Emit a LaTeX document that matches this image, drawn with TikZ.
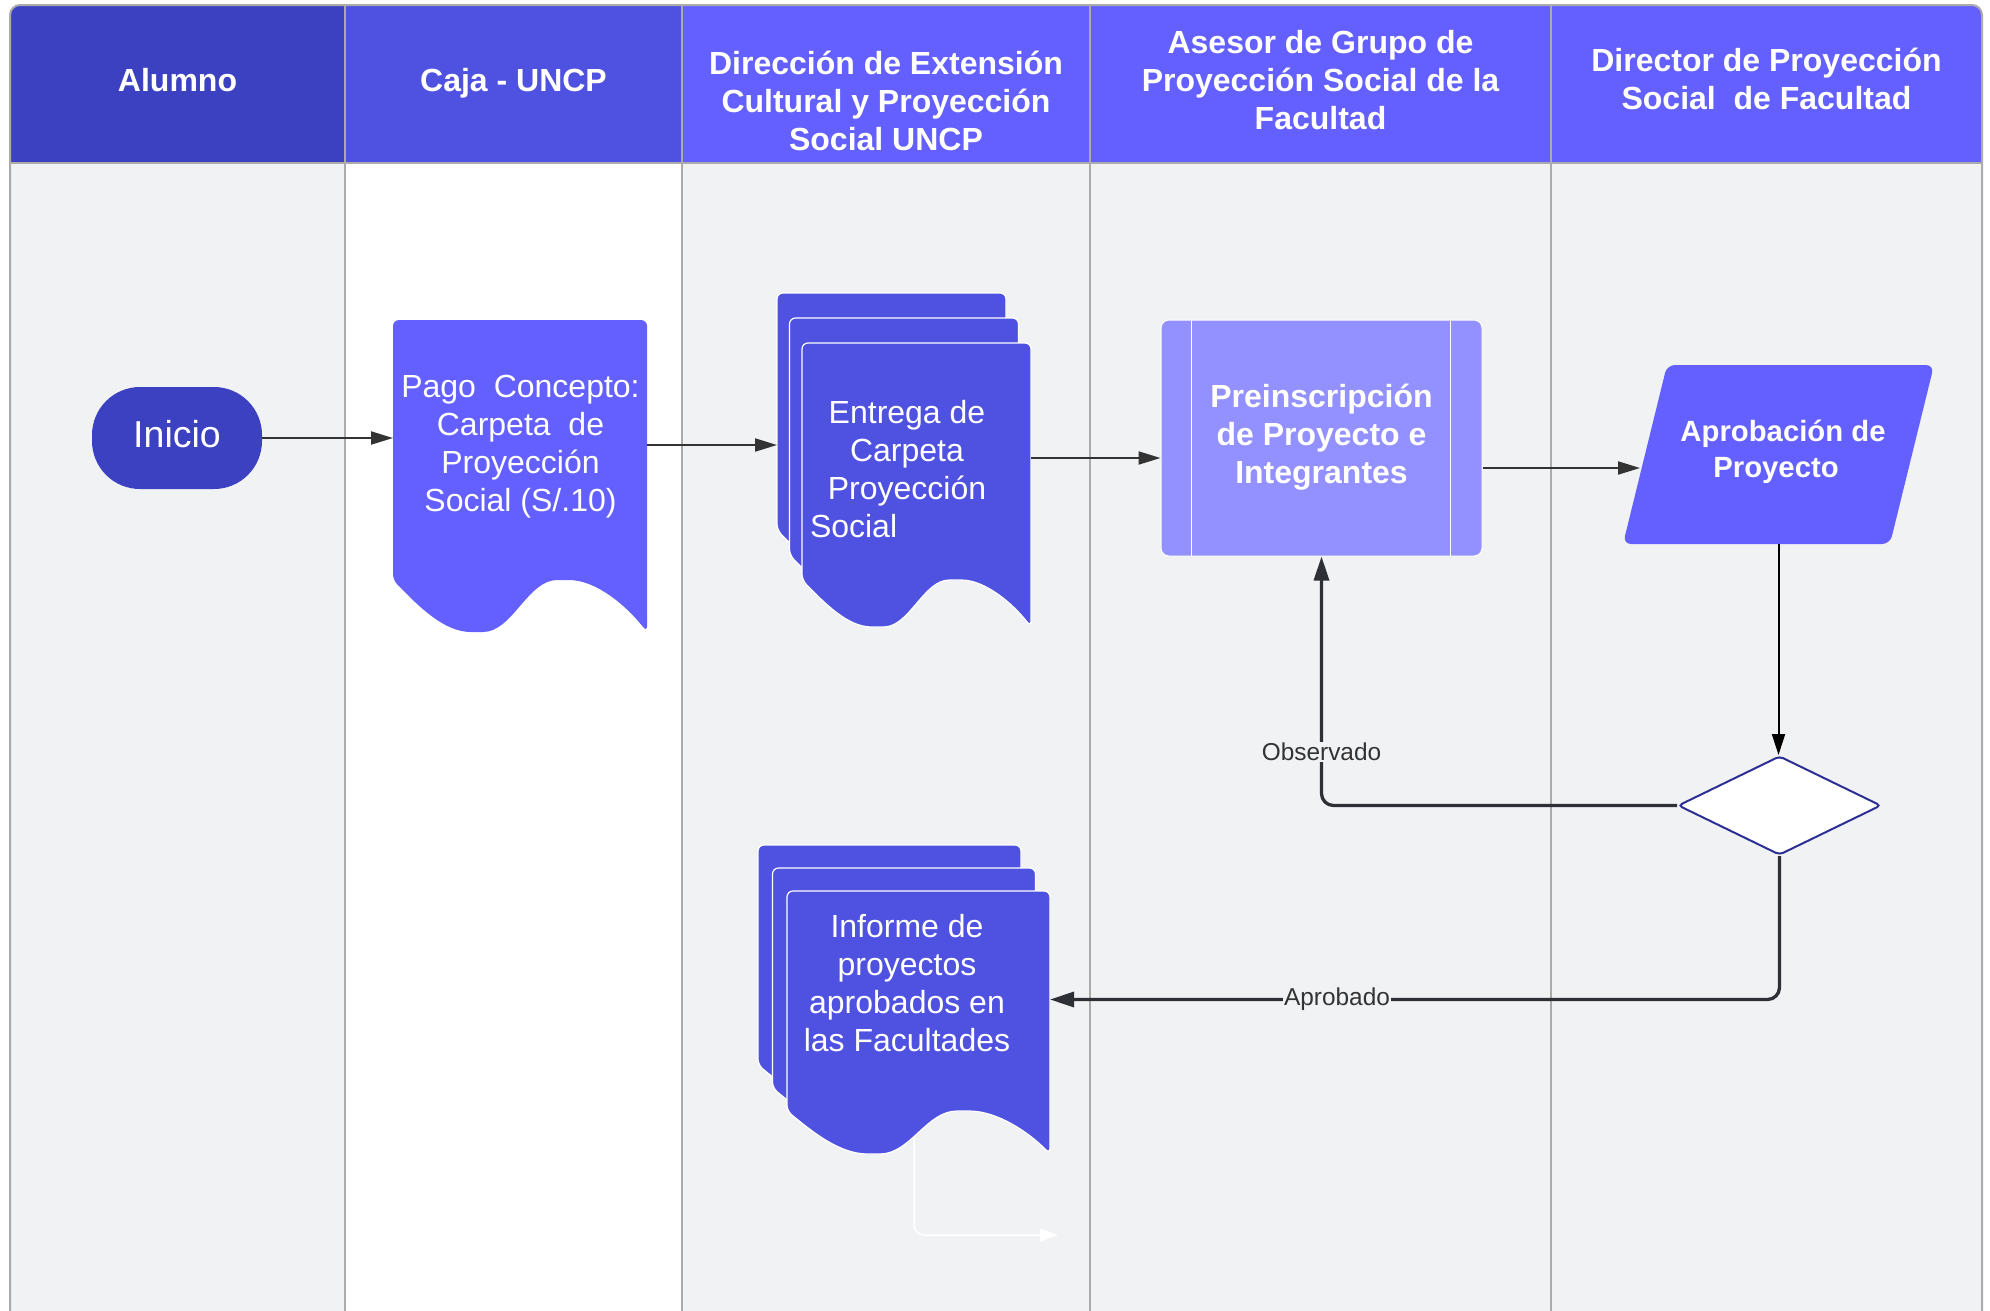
\documentclass[tikz,border=0pt]{standalone}
\usepackage{fontspec}
\setmainfont{Liberation Sans}
\usetikzlibrary{arrows.meta,shapes.geometric}
\definecolor{hdA}{HTML}{3C41C1}
\definecolor{hdB}{HTML}{4F52E0}
\definecolor{hdC}{HTML}{6360FF}
\definecolor{laneG}{HTML}{F1F2F4}
\definecolor{gridG}{HTML}{ABABAB}
\definecolor{preF}{HTML}{9391FF}
\definecolor{lineD}{HTML}{2D3136}
\definecolor{arrC}{HTML}{333333}
\definecolor{dmS}{HTML}{2E2F94}
\definecolor{lblC}{HTML}{333333}
% style, x0, y0, w, h, A
\newcommand{\docshape}[6]{%
 \path[#1, rounded corners=6pt] ({#2+#4},{#3+#5})
 .. controls ({#2+0.92*#4},{#3+#5-0.5*#6}) and ({#2+0.8*#4},{#3+#5-#6}) .. ({#2+0.67*#4},{#3+#5-#6})
 .. controls ({#2+0.53*#4},{#3+#5-#6}) and ({#2+0.47*#4},{#3+#5}) .. ({#2+0.33*#4},{#3+#5})
 .. controls ({#2+0.2*#4},{#3+#5}) and ({#2+0.1*#4},{#3+#5-0.5*#6}) .. ({#2},{#3+#5-#6})
 -- ({#2},{#3}) -- ({#2+#4},{#3}) -- cycle;}
\begin{document}
\begin{tikzpicture}[x=1pt,y=-1pt,
  hdr/.style={text=white, font=\fontsize{32}{38}\selectfont\bfseries, align=center, inner sep=0pt},
  bodytxt/.style={text=white, font=\fontsize{32}{38}\selectfont, align=center, inner sep=0pt},
  boldtxt/.style={text=white, font=\fontsize{32}{38}\selectfont\bfseries, align=center, inner sep=0pt},
  area/.style={draw=none, fill=none, inner sep=0pt, outer sep=0pt},
  thinarr/.style={draw=arrC, line width=2pt, -{Triangle[length=22pt,width=13pt]}},
  downarr/.style={draw=black, line width=2pt, -{Triangle[length=21pt,width=13pt]}},
  flowline/.style={draw=lineD, line width=3.3pt, rounded corners=12pt, -{Triangle[length=24pt,width=15pt]}},
  lbl/.style={fill=laneG, text=lblC, font=\fontsize{24.4}{28}\selectfont, inner sep=1.5pt},
  stackdoc/.style={fill=hdB, draw=white, line width=1.2pt}]
\useasboundingbox (0,0) rectangle (1990,1310);
\fill[white] (0,0) rectangle (1990,1310);
% lanes
\begin{scope}
\clip[rounded corners=10pt] (10,5) rectangle (1982,1340);
\fill[laneG] (10,163) rectangle (345,1340);
\fill[white] (345,163) rectangle (682,1340);
\fill[laneG] (682,163) rectangle (1982,1340);
\fill[hdA] (10,5) rectangle (345,163);
\fill[hdB] (345,5) rectangle (682,163);
\fill[hdC] (682,5) rectangle (1982,163);
\end{scope}
\draw[gridG, line width=2pt, rounded corners=10pt] (10,1340) -- (10,5) -- (1982,5) -- (1982,1340);
\draw[gridG, line width=2pt] (10,163) -- (1982,163);
\foreach \x in {345,682,1090,1551} \draw[gridG, line width=2pt] (\x,5) -- (\x,1340);
% headers
\node[hdr] (hA) at (177.5,80) {Alumno};
\node[hdr] (hB) at (513.5,83) {Caja - UNCP};
\node[hdr] (hC) at (886,101) {Dirección de Extensión\\Cultural y Proyección\\Social UNCP};
\node[hdr] (hD) at (1320.5,80) {Asesor de Grupo de\\Proyección Social de la\\Facultad};
\node[hdr] (hE) at (1766.5,79) {Director de Proyección\\Social\ \ de Facultad};
% Inicio
\node[fill=hdA, rounded corners=48pt, minimum width=170pt, minimum height=102pt, inner sep=0pt] (inicio) at (177,438) {};
\node[text=white, font=\fontsize{37.5}{42}\selectfont, inner sep=0pt] (inicioT) at (177,434) {Inicio};
% Pago
\docshape{fill=hdC}{393}{320}{254}{312}{52}
\node[area, minimum width=254pt, minimum height=312pt] (pago) at (520,476) {};
\node[bodytxt] (pagoT) at (520.5,447) {Pago\ \ Concepto:\\Carpeta\ \ de\\Proyección\\Social (S/.10)};
% Entrega stack
\docshape{stackdoc}{777}{293}{229}{284}{47}
\docshape{stackdoc}{789.5}{318}{229}{284}{47}
\docshape{stackdoc}{802}{343}{229}{284}{47}
\node[area, minimum width=254pt, minimum height=334pt] (entrega) at (904,460) {};
\node[bodytxt] (entregaT) at (907,469) {Entrega de\\Carpeta\\Proyección\\\makebox[194pt][l]{Social}};
% Informe stack
\node[area, minimum width=292pt, minimum height=309pt] (inf) at (904,999.5) {};
\coordinate (wEnd) at (1058,1235);
\draw[white, line width=1.5pt, rounded corners=10pt, -{Triangle[length=18pt,width=13pt]}] ([xshift=10pt,yshift=17pt]inf.south) |- (wEnd);
\docshape{stackdoc}{758}{845}{263}{263}{43}
\docshape{stackdoc}{772.5}{868}{263}{263}{43}
\docshape{stackdoc}{787}{891}{263}{263}{43}
\node[bodytxt] (infT) at (907,983) {Informe de\\proyectos\\aprobados en\\las Facultades};
% Preinscripcion
\node[fill=preF, draw=white, line width=1pt, rounded corners=8pt, minimum width=321pt, minimum height=236pt, inner sep=0pt] (preins) at (1321.5,438) {};
\draw[white, line width=1.5pt] ([xshift=31pt]preins.north west) -- ([xshift=31pt]preins.south west);
\draw[white, line width=1.5pt] ([xshift=-32pt]preins.north east) -- ([xshift=-32pt]preins.south east);
\node[boldtxt] (preinsT) at (1321.5,437) {Preinscripción\\de Proyecto e\\Integrantes};
% Aprobacion
\fill[hdC, rounded corners=8pt] (1623,544) -- (1667,365) -- (1934,365) -- (1890,544) -- cycle;
\node[area, minimum width=311pt, minimum height=179pt] (aprob) at (1778.5,454.5) {};
\node[text=white, font=\fontsize{29.3}{35.5}\selectfont\bfseries, align=center, inner sep=0pt] (aprobT) at (1783,452) {Aprobación de\\Proyecto\hspace*{14pt}};
% Decision
\node[diamond, draw=dmS, fill=white, line width=2pt, rounded corners=4pt, minimum width=203pt, minimum height=99pt, inner sep=0pt] (dec) at (1779.5,805.5) {};
% connectors
\draw[thinarr] (inicio.east) -- (inicio.east -| pago.west);
\draw[thinarr] ([yshift=31pt]pago.east) -- ([yshift=31pt]pago.east -| entrega.west);
\draw[thinarr] ([yshift=2pt]entrega.east) -- ([yshift=2pt]entrega.east -| preins.west);
\coordinate (aprobIn) at (1640,468);
\draw[thinarr] (aprobIn -| preins.east) -- (aprobIn);
\draw[downarr] (aprob.south) -- (aprob.south |- dec.north);
\draw[flowline] (dec.west) -- (dec.west -| preins.south) -- (preins.south);
\draw[flowline] (dec.south) -- (dec.south |- inf.east) -- (inf.east);
\node[lbl] (obsL) at (1321.5,752) {Observado};
\node[lbl] (aprL) at (1337,999) {Aprobado};
\end{tikzpicture}
\end{document}
